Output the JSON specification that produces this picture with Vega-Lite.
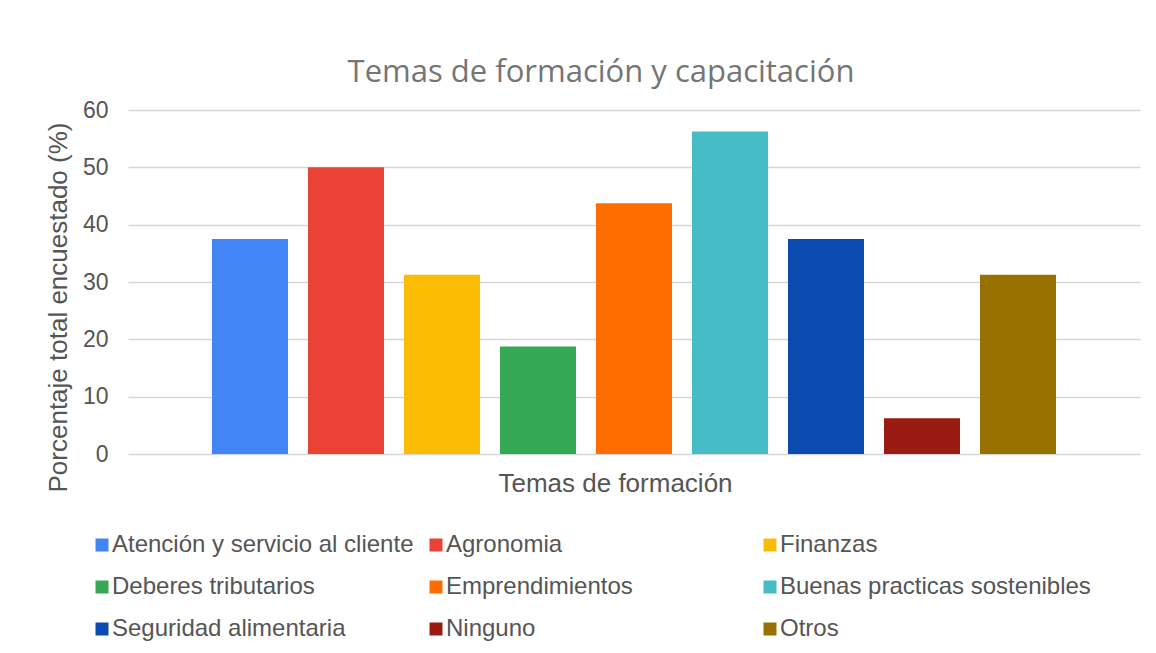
{
  "$schema": "https://vega.github.io/schema/vega-lite/v6.json",
  "width": 1012,
  "height": 344,
  "autosize": {"type": "none"},
  "padding": {"left": 128, "top": 110, "right": 16, "bottom": 199},
  "background": "white",
  "config": {"view": {"stroke": null}},
  "title": {
    "text": "Temas de formación y capacitación",
    "font": "Open Sans",
    "fontSize": 31,
    "fontWeight": "normal",
    "color": "#757575",
    "anchor": "middle",
    "dx": -33,
    "offset": 10
  },
  "data": {
    "values": [
      {"tema": "Atención y servicio al cliente", "pct": 37.5},
      {"tema": "Agronomia", "pct": 50},
      {"tema": "Finanzas", "pct": 31.25},
      {"tema": "Deberes tributarios", "pct": 18.75},
      {"tema": "Emprendimientos", "pct": 43.75},
      {"tema": "Buenas practicas sostenibles", "pct": 56.25},
      {"tema": "Seguridad alimentaria", "pct": 37.5},
      {"tema": "Ninguno", "pct": 6.25},
      {"tema": "Otros", "pct": 31.25}
    ]
  },
  "mark": {"type": "bar"},
  "encoding": {
    "x": {
      "field": "tema",
      "type": "nominal",
      "sort": null,
      "scale": {"paddingInner": 0.2083, "paddingOuter": 0.875},
      "axis": {
        "title": "Temas de formación",
        "labels": false,
        "ticks": false,
        "domain": false,
        "grid": false,
        "titleFont": "Liberation Sans",
        "titleFontSize": 26,
        "titleFontWeight": "normal",
        "titleColor": "#555555",
        "titlePadding": 16,
        "titleX": 487
      }
    },
    "y": {
      "field": "pct",
      "type": "quantitative",
      "scale": {"domain": [0, 60], "nice": false},
      "axis": {
        "title": "Porcentaje total encuestado  (%)",
        "values": [0, 10, 20, 30, 40, 50, 60],
        "ticks": false,
        "domain": false,
        "labelFont": "Liberation Sans",
        "labelFontSize": 23,
        "labelColor": "#555555",
        "labelPadding": 20,
        "gridColor": "#d6d6d6",
        "gridWidth": 1.5,
        "titleFont": "Liberation Sans",
        "titleFontSize": 26,
        "titleFontWeight": "normal",
        "titleColor": "#555555",
        "titleX": -70,
        "titleY": 197,
        "titleAngle": -90,
        "titleAlign": "center",
        "titleBaseline": "middle"
      }
    },
    "color": {
      "field": "tema",
      "type": "nominal",
      "scale": {
        "domain": ["Atención y servicio al cliente", "Agronomia", "Finanzas", "Deberes tributarios", "Emprendimientos", "Buenas practicas sostenibles", "Seguridad alimentaria", "Ninguno", "Otros"],
        "range": ["#4285f4", "#ea4335", "#fbbc04", "#34a853", "#ff6d01", "#46bdc6", "#0b4aaf", "#9a1b12", "#977000"]
      },
      "legend": {
        "title": null,
        "orient": "none",
        "direction": "horizontal",
        "legendX": -38,
        "legendY": 423,
        "columns": 3,
        "gridAlign": "all",
        "columnPadding": 1,
        "rowPadding": 18,
        "padding": 0,
        "symbolType": "square",
        "symbolSize": 169,
        "symbolStrokeWidth": 0,
        "labelFont": "Liberation Sans",
        "labelFontSize": 24,
        "labelColor": "#555555",
        "labelOffset": -2,
        "labelLimit": 400
      }
    }
  }
}
